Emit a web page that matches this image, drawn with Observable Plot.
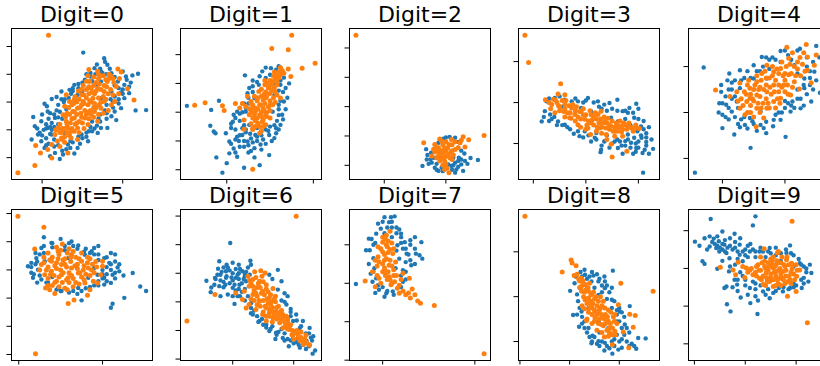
<!DOCTYPE html>
<html><head><meta charset="utf-8">
<script src="https://cdn.jsdelivr.net/npm/d3@7"></script>
<script src="https://cdn.jsdelivr.net/npm/@observablehq/plot@0.6"></script>
<style>
body{margin:0;background:#fff}
#chart{position:relative;width:820px;height:366px;overflow:hidden;background:#fff}
#chart svg{position:absolute}
</style>
</head><body><div id="chart"></div>
<script>
const digits = [0,1,2,3,4,5,6,7,8,9];

const blue0 = [[0.51,1.78],[0.77,1.58],[1.29,-0.29],[1.16,-0.30],[1.19,1.02],[1.12,0.96],[0.03,-0.06],[-0.11,-0.54],[-0.09,-0.87],[-0.13,-1.35],[0.12,0.11],[0.24,0.38],[0.34,0.44],[0.53,0.80],[0.65,1.22],[0.81,1.34],[0.86,1.04],[1.00,1.10],[1.04,0.92],[0.94,0.74],[1.02,0.62],[1.08,0.32],[1.02,0.14],[0.98,-0.22],[0.86,-0.51],[0.73,-0.93],[0.69,-1.11],[0.57,-1.41],[0.44,-1.65],[0.26,-1.89],[0.16,-1.83],[0.03,-1.65],[-0.05,-1.17],[-0.01,-0.69],[0.07,-0.34],[0.16,-0.57],[0.20,-0.10],[0.32,-0.22],[0.44,0.26],[0.57,0.50],[0.73,0.74],[0.73,0.14],[0.86,0.38],[0.62,-1.05],[0.49,-1.17],[0.32,-1.53],[0.12,-1.17],[0.07,-0.93],[0.81,-0.93],[0.90,-0.34],[0.28,-1.11],[-0.01,-1.41],[0.38,0.50],[0.73,1.11],[0.10,-0.40],[0.18,0.18],[0.28,0.10],[0.40,0.62],[0.47,0.40],[0.60,0.92],[0.68,0.62],[0.90,0.90],[0.95,0.50],[0.80,-0.60],[0.92,-0.65],[0.72,-0.45],[0.62,-0.70],[0.55,-1.25],[0.38,-1.45],[0.20,-1.55],[0.05,-1.30],[0.02,-1.00],[-0.06,-0.95],[0.12,-0.75],[0.10,-1.95],[0.40,-1.85],[1.10,0.70],[0.85,0.10],[0.95,-0.05],
[0.10,-0.90],[0.08,-0.60],[0.20,-0.55],[0.18,-0.30],[0.30,-0.25],[0.27,0.00],[0.40,0.05],[0.36,0.30],[0.50,0.40],[0.45,0.65],[0.62,0.75],[0.55,1.00],[0.72,1.20],[0.68,1.35],[0.84,1.20],[0.78,1.45],[0.25,-1.75],[0.22,-2.05],[0.35,-1.65],[0.47,-1.50],[0.50,-1.30],[0.58,-1.05],[0.60,-0.90],[0.68,-0.85],[0.70,-0.60],[0.78,-0.30],[0.80,-0.10],[0.88,0.00],[0.90,0.20],[0.98,0.35],[1.00,0.45],[1.05,0.80],[1.08,0.55],[0.00,-1.20],[0.05,-0.80],[0.00,-0.45],[0.08,-1.50],[0.15,-1.35],[0.12,-1.00],[0.20,-0.80],[0.06,-0.15],[-0.03,-1.10],
[0.05,-0.95],[0.10,-1.15],[0.15,-0.90],[0.15,-0.45],[0.22,-0.35],[0.25,-0.60],[0.24,0.10],[0.33,0.15],[0.38,0.40],[0.45,0.50],[0.50,0.70],[0.60,1.05],[0.66,1.00],[0.75,1.05],[0.80,1.00],[0.90,0.60],[0.95,0.10],[0.88,-0.20],[0.80,-0.40],[0.72,-0.70],[0.65,-0.95],[0.55,-1.10],[0.45,-1.25],[0.35,-1.40],[0.30,-1.70],[0.15,-1.60],[0.05,-1.55],[1.00,0.30]];
const orange0 = [[0.08,2.40],[-0.30,-2.54],[-0.09,-2.28],[-0.02,-1.83],[-0.08,-1.56],[0.12,-2.01],[0.07,-1.71],[0.12,-1.53],[0.24,-1.29],[0.36,-1.29],[0.32,-1.83],[0.44,-1.35],[0.20,-0.93],[0.32,-0.93],[0.44,-0.93],[0.57,-0.81],[0.69,-0.69],[0.26,-0.46],[0.40,-0.57],[0.53,-0.57],[0.34,0.02],[0.44,-0.22],[0.57,-0.10],[0.65,-0.34],[0.73,-0.22],[0.86,-0.10],[0.90,0.02],[0.30,0.26],[0.49,0.26],[0.69,0.50],[0.77,0.38],[0.59,0.74],[0.81,0.74],[0.58,1.17],[0.69,1.11],[0.94,1.19],[0.98,1.08],[0.92,0.56],[1.06,0.48],[1.14,0.07],[0.38,-0.34],[0.51,0.02],[0.63,0.14],[0.16,-1.17],[0.77,0.02],[0.30,-0.70],[0.48,-0.40],[0.60,-0.30],[0.36,-1.05],[0.25,-1.10],[0.55,0.45],[0.40,0.10],[0.62,0.35],[0.70,0.85],[0.80,0.55],[0.65,-0.05],[0.50,-0.75],[0.28,-0.15],
[0.22,-1.60],[0.22,-1.10],[0.22,-0.80],[0.28,-1.45],[0.28,-1.25],[0.28,-0.95],[0.29,-0.55],[0.34,-1.20],[0.35,-0.75],[0.34,-0.45],[0.33,-0.20],[0.40,-1.05],[0.41,-0.80],[0.40,-0.35],[0.39,-0.05],[0.41,0.20],[0.46,-1.10],[0.46,-0.70],[0.47,-0.20],[0.46,0.10],[0.45,0.40],[0.52,-0.95],[0.53,-0.30],[0.52,-0.05],[0.52,0.25],[0.51,0.60],[0.58,-0.60],[0.58,-0.35],[0.59,0.05],[0.58,0.30],[0.58,0.55],[0.57,0.95],[0.64,-0.55],[0.64,-0.20],[0.65,0.30],[0.64,0.60],[0.64,0.90],[0.70,-0.45],[0.71,-0.10],[0.70,0.15],[0.71,0.65],[0.70,1.00],[0.76,-0.40],[0.76,0.20],[0.77,0.60],[0.76,0.95],[0.82,0.30],[0.83,0.85],[0.82,-0.30],[0.83,1.00],[0.88,0.25],[0.88,0.85],[0.89,0.70],[0.95,0.30],[0.96,0.85],
[0.25,-1.35],[0.25,-0.95],[0.31,-1.10],[0.31,-0.80],[0.31,-0.40],[0.37,-0.95],[0.37,-0.60],[0.37,-0.10],[0.43,-0.75],[0.43,-0.45],[0.43,0.00],[0.49,-0.55],[0.49,-0.10],[0.49,0.45],[0.55,-0.45],[0.55,0.15],[0.55,0.75],[0.61,-0.45],[0.61,0.00],[0.61,0.50],[0.67,-0.20],[0.67,0.40],[0.67,0.70],[0.73,0.00],[0.73,0.45],[0.73,0.95],[0.79,0.10],[0.79,0.80],[0.85,0.45],[0.85,0.95],[0.19,-1.40],[0.17,-1.00]];

const blue1 = [[-0.46,0.22],[-0.09,0.40],[-0.18,0.08],[-0.19,-0.47],[-0.15,-0.67],[-0.13,-0.73],[-0.01,-0.73],[0.03,-1.02],[0.08,-1.26],[0.14,-1.00],[-0.12,-1.57],[0.00,-1.77],[-0.05,-2.10],[0.03,-1.43],[0.12,-1.55],[0.20,-1.93],[0.32,-1.57],[0.38,-1.84],[0.49,-1.49],[0.39,-1.12],[0.21,1.28],[0.24,0.66],[0.41,1.42],[0.51,1.53],[0.57,1.48],[0.68,0.84],[0.66,0.37],[0.64,-0.09],[0.62,-0.44],[0.57,-0.56],[0.57,-0.73],[0.49,-0.79],[0.28,-0.91],[0.24,-1.02],[0.18,-0.79],[0.07,-0.33],[0.08,-0.09],[0.12,0.02],[0.22,0.02],[0.26,-0.44],[0.33,-0.79],[0.18,-0.56],[0.53,0.02],[0.60,0.26],[0.45,1.19],[0.37,0.95],[0.32,0.49],[0.26,0.84],[0.10,-0.60],[0.20,-1.20],[0.30,-1.05],[0.42,-0.95],[0.15,-0.30],[0.05,-0.55],[0.45,-0.60],[0.35,-0.55],[0.55,0.60],[0.62,0.95],[0.50,1.30],[0.30,1.10],[0.20,0.30],
[0.15,-0.80],[0.22,-0.70],[0.25,-1.15],[0.32,-1.25],[0.40,-1.30],[0.45,-1.10],[0.52,-1.00],[0.55,-0.90],[0.60,-0.60],[0.65,-0.25],[0.68,0.10],[0.70,0.50],[0.65,0.70],[0.72,1.00],[0.66,1.20],[0.60,1.60],[0.45,1.55],[0.38,1.25],[0.30,0.90],[0.25,0.50],[0.22,0.15],[0.15,-0.05],[0.10,-0.20],[0.20,-0.45],[0.12,-0.85],[0.05,-1.10],[0.28,-1.35],[0.35,-1.00],[0.50,-0.50],[0.58,-0.30],
[0.05,-0.40],[0.10,-0.95],[0.15,-1.20],[0.20,-1.00],[0.22,-0.60],[0.27,-0.75],[0.35,-0.85],[0.40,-0.80],[0.48,-0.65],[0.55,-0.45],[0.60,-0.10],[0.60,0.10],[0.62,0.40],[0.60,0.75],[0.55,1.00],[0.62,1.10],[0.35,1.05],[0.30,0.70],[0.25,0.30],[0.18,0.00],[0.10,-1.40],[0.25,-1.40]];
const orange1 = [[0.75,2.67],[0.52,2.21],[0.71,2.17],[1.02,1.70],[0.87,1.53],[0.71,1.50],[0.74,1.24],[0.64,1.45],[-0.37,0.24],[-0.25,0.33],[-0.05,0.22],[-0.03,0.06],[0.10,0.30],[0.20,-0.27],[0.20,-0.59],[0.30,-1.98],[0.38,-0.73],[0.30,-0.56],[0.24,0.55],[0.28,0.37],[0.33,0.02],[0.39,0.26],[0.45,0.49],[0.49,0.84],[0.53,1.07],[0.57,1.30],[0.45,-0.09],[0.41,-0.33],[0.35,-0.21],[0.53,0.26],[0.60,1.19],[0.62,0.49],[0.30,0.14],[0.37,0.72],[0.45,-0.44],[0.26,-0.09],[0.40,0.55],[0.50,0.65],[0.55,0.85],[0.35,0.40],[0.43,0.05],[0.50,-0.20],[0.38,-0.50],[0.47,1.00],
[0.30,-0.60],[0.40,-0.65],[0.28,-0.40],[0.36,-0.38],[0.42,-0.25],[0.30,-0.20],[0.38,-0.10],[0.46,-0.15],[0.28,0.00],[0.36,0.10],[0.42,0.15],[0.50,0.05],[0.30,0.25],[0.44,0.30],[0.48,0.18],[0.56,0.35],[0.32,0.55],[0.42,0.42],[0.50,0.40],[0.58,0.60],[0.40,0.80],[0.45,0.70],[0.52,0.75],[0.58,0.95],[0.44,0.95],[0.50,1.10],[0.56,1.15],[0.62,1.30],[0.55,1.40],[0.62,1.55],[0.66,1.35],[0.15,0.15],[0.18,0.30],[0.22,0.20],
[0.33,-0.50],[0.42,-0.50],[0.33,-0.30],[0.40,-0.15],[0.32,-0.10],[0.40,0.00],[0.46,0.00],[0.33,0.15],[0.38,0.25],[0.50,0.25],[0.36,0.50],[0.46,0.55],[0.54,0.50],[0.43,0.62],[0.48,0.85],[0.56,0.70],[0.52,0.95],[0.58,1.05],[0.54,1.25],[0.60,1.40],[0.44,1.10],[0.28,0.30],[0.26,0.12]];

const blue2 = [[0.62,-0.02],[0.69,0.20],[0.77,0.09],[0.82,-0.08],[0.93,-0.08],[0.96,0.91],[1.06,0.97],[1.15,0.94],[1.20,0.60],[1.21,0.26],[1.25,0.03],[1.28,-0.19],[1.17,-0.14],[1.09,-0.02],[1.52,0.18],[1.31,0.15],[0.76,0.43],[0.88,0.77],[1.12,0.26],[1.04,0.03],[1.15,0.09],[0.88,-0.19],[0.80,0.26],
[0.70,0.35],[0.72,0.05],[0.85,-0.15],[0.95,-0.20],[1.10,-0.15],[1.20,-0.05],[1.25,0.20],[1.30,0.40],[1.20,0.80],[1.00,0.95],[1.35,0.05],[1.40,0.25],[1.15,-0.25],[0.68,0.55],
[0.75,0.20],[0.85,0.05],[1.00,-0.10],[1.12,0.00],[1.20,0.15],[1.25,0.50]];
const orange2 = [[-0.46,4.43],[0.64,0.77],[1.28,0.97],[1.37,0.87],[1.62,1.02],[1.31,0.62],[0.82,0.71],[0.93,0.83],[1.09,0.88],[1.23,0.77],[0.98,0.60],[0.88,0.49],[0.77,0.32],[0.85,0.26],[0.98,0.15],[1.05,-0.25],[0.98,-0.14],[1.04,0.37],[1.15,0.54],[0.96,0.43],[1.05,0.71],[0.92,0.30],[1.10,0.70],[1.00,0.05],
[0.85,0.60],[0.90,0.40],[0.95,0.70],[1.00,0.50],[1.00,0.30],[1.08,0.45],[1.12,0.35],[1.20,0.60],[0.82,0.45],[0.90,0.15],[0.95,0.00],[1.02,-0.10],[0.90,0.90],[1.15,0.80],[1.25,0.85],[1.10,0.20],[0.80,0.55],
[0.88,0.60],[0.93,0.50],[1.03,0.60],[1.07,0.25],[0.87,0.30],[0.95,0.25],[1.10,0.50],[1.00,0.80]];

const blue3 = [[0.16,-0.46],[0.22,-0.21],[0.25,0.03],[0.32,-0.29],[0.47,-0.46],[0.60,-0.54],[0.77,-0.76],[0.88,-0.82],[1.04,0.11],[1.23,0.03],[1.45,-0.01],[1.60,0.07],[1.83,-0.13],[1.96,-0.03],[1.70,-0.21],[1.92,-0.37],[2.05,-0.58],[2.06,-0.86],[2.15,-0.96],[2.28,-1.13],[2.08,-1.23],[1.96,-1.11],[1.86,-0.98],[2.09,-1.71],[1.75,-0.94],[1.29,-1.15],[1.28,-1.21],[1.61,-1.11],[1.36,-0.94],[1.17,-0.86],[0.73,0.03],[0.85,0.03],[0.91,-0.13],[1.10,-0.21],[1.48,-0.37],[1.61,-0.46],[1.80,-0.78],[1.92,-0.86],[0.41,0.11],[0.60,0.07],[0.98,-0.70],[1.20,-0.74],[1.30,-0.15],[1.40,-0.20],[1.75,-0.40],[1.85,-0.55],[1.98,-0.70],[2.15,-0.75],[2.00,-0.95],[1.55,-0.95],[1.68,-1.05],[0.95,0.00],[0.40,-0.35],[0.55,-0.10],
[0.30,-0.45],[0.45,-0.55],[0.70,-0.65],[0.95,-0.85],[1.10,-0.95],[1.30,-1.05],[1.45,-1.10],[1.70,-1.25],[1.90,-1.25],[2.00,-1.10],[2.15,-1.05],[2.20,-1.25],[2.10,-0.45],[2.20,-0.60],[2.00,-0.15],[1.80,-0.25],[1.60,-0.20],[1.35,-0.05],[1.15,0.00],[1.00,0.05],[0.80,0.10],[0.50,0.15],[0.30,0.10],[1.85,-1.10],[2.25,-0.90],[1.40,-0.80],[1.60,-0.90],[1.80,-0.90],
[0.20,-0.35],[0.35,-0.40],[0.55,-0.55],[0.65,-0.60],[0.85,-0.70],[1.05,-0.80],[1.20,-0.90],[1.35,-0.95],[1.50,-1.00],[1.65,-0.95],[1.75,-1.05],[1.95,-1.00],[2.05,-0.80],[2.10,-0.65],[2.00,-0.40],[1.90,-0.25],[1.75,-0.20],[1.50,-0.15],[1.25,-0.10],[2.15,-0.85],[1.95,-1.20],[2.12,-1.15]];
const orange3 = [[-0.16,1.64],[-0.09,0.98],[0.52,0.46],[0.47,0.21],[0.60,0.19],[0.23,0.07],[0.42,0.06],[0.33,-0.15],[0.41,-0.25],[0.60,-0.05],[0.73,-0.13],[0.79,-0.29],[0.91,-0.21],[0.98,-0.41],[1.10,-0.50],[1.23,-0.29],[1.36,-0.46],[1.26,-0.62],[1.39,-0.78],[1.55,-0.70],[1.67,-0.58],[1.80,-0.54],[1.96,-0.62],[2.02,-0.63],[1.70,-0.82],[1.55,-0.82],[1.09,-0.78],[1.48,-1.02],[1.50,-1.33],[1.78,-1.19],[0.85,-0.54],[0.69,-0.37],[1.04,-0.62],[1.29,-0.21],[0.50,-0.10],[0.65,-0.25],[0.80,-0.45],[1.15,-0.35],[1.45,-0.55],[1.60,-0.55],[0.30,0.00],
[0.35,-0.05],[0.45,0.00],[0.50,-0.20],[0.55,0.05],[0.60,-0.15],[0.70,-0.25],[0.75,-0.05],[0.80,-0.20],[0.85,-0.35],[0.90,-0.40],[0.95,-0.15],[1.00,-0.30],[1.05,-0.45],[1.10,-0.30],[1.15,-0.55],[1.20,-0.40],[1.25,-0.50],[1.30,-0.60],[1.35,-0.35],[1.40,-0.50],[1.45,-0.65],[1.50,-0.45],[1.55,-0.60],[1.60,-0.70],[1.65,-0.45],[1.70,-0.65],[1.75,-0.55],[1.85,-0.60],[1.90,-0.70],[1.20,-0.70],[0.60,-0.35],[0.90,-0.60],
[0.38,0.08],[0.48,-0.08],[0.58,-0.22],[0.62,0.05],[0.68,-0.08],[0.72,-0.38],[0.82,-0.10],[0.88,-0.22],[0.95,-0.30],[1.02,-0.55],[1.08,-0.20],[1.12,-0.42],[1.18,-0.25],[1.22,-0.60],[1.28,-0.40],[1.33,-0.50],[1.38,-0.62],[1.42,-0.38],[1.48,-0.58],[1.52,-0.70],[1.58,-0.50],[1.62,-0.62],[1.68,-0.72],[1.72,-0.50],[1.78,-0.65],[1.82,-0.50],[1.88,-0.62],[1.95,-0.55],[1.30,-0.75],[1.40,-0.90],[1.00,-0.65]];

const blue4 = [[-0.30,0.98],[-0.44,-1.31],[0.45,-0.77],[1.01,-0.53],[0.19,-0.48],[0.00,-0.34],[-0.06,0.00],[-0.02,0.45],[-0.02,0.60],[0.11,0.85],[0.28,0.92],[0.50,1.03],[0.63,1.21],[0.93,1.34],[1.24,1.39],[1.50,1.45],[1.56,0.43],[1.42,0.24],[1.25,0.09],[1.09,0.02],[0.93,-0.16],[0.81,-0.30],[0.66,-0.34],[0.48,-0.19],[0.28,-0.32],[0.36,-0.27],[0.06,0.17],[0.15,0.02],[0.82,-0.16],[0.61,0.02],[0.93,1.10],[1.15,1.03],[1.31,0.74],[1.31,0.53],[1.12,0.24],[0.50,0.74],[0.28,0.53],[0.23,0.24],[0.71,0.74],[1.47,0.89],[0.44,-0.12],[0.61,-0.27],[0.05,0.35],[0.10,-0.15],[0.40,0.90],[0.75,1.15],[1.05,1.25],[1.20,0.85],[1.40,0.60],[1.00,0.10],[0.70,-0.20],[0.20,0.70],[1.35,1.20],
[0.00,0.20],[0.05,-0.10],[0.10,0.50],[0.15,0.30],[0.20,-0.10],[0.30,-0.15],[0.35,0.75],[0.40,-0.35],[0.55,-0.40],[0.60,0.90],[0.70,1.20],[0.80,1.20],[0.85,-0.05],[0.95,0.00],[1.05,0.20],[1.15,0.10],[1.20,0.50],[1.25,0.30],[1.35,0.40],[1.40,0.90],[1.45,1.10],[1.55,1.20],[1.50,0.70],[1.20,1.35],[1.00,1.35],[0.15,0.65],[-0.05,0.20],[0.25,-0.25],[0.70,-0.45],[1.30,0.15],
[0.10,0.10],[0.15,0.50],[0.20,0.35],[0.25,0.10],[0.30,0.70],[0.35,-0.10],[0.45,0.75],[0.50,-0.25],[0.55,0.90],[0.65,1.00],[0.75,0.95],[0.85,1.15],[0.90,0.00],[1.00,0.25],[1.10,0.15],[1.20,0.30],[1.30,0.60],[1.40,0.75],[1.35,1.00],[1.45,0.50],[0.00,-0.05],[0.08,0.70],[1.10,1.15]];
const orange4 = [[1.61,1.68],[1.34,1.48],[1.03,1.42],[1.50,1.25],[1.36,1.21],[1.47,1.03],[1.36,0.92],[1.42,0.65],[1.23,0.51],[-0.11,0.49],[0.12,0.35],[0.28,0.64],[0.44,0.53],[0.55,0.67],[0.71,1.03],[0.82,0.89],[0.93,0.96],[1.06,1.18],[1.06,0.82],[0.98,0.60],[0.82,0.60],[0.71,0.45],[0.55,0.38],[0.39,0.24],[0.28,0.09],[0.36,-0.05],[0.55,0.09],[0.66,-0.12],[0.82,0.24],[0.93,0.31],[1.09,0.38],[1.15,0.67],[0.54,-0.31],[0.44,0.31],[0.23,0.45],[0.71,0.09],[0.60,0.55],[0.70,0.30],[0.90,0.45],[1.00,0.85],[1.15,1.00],[0.45,0.15],
[0.30,0.30],[0.35,0.45],[0.40,0.60],[0.45,0.40],[0.50,0.50],[0.50,0.25],[0.55,0.80],[0.60,0.35],[0.62,0.70],[0.65,0.20],[0.68,0.90],[0.70,0.60],[0.75,0.75],[0.78,0.40],[0.80,1.00],[0.85,0.70],[0.88,0.30],[0.90,0.85],[0.95,1.10],[0.95,0.55],[1.00,0.70],[1.02,1.00],[1.05,0.40],[1.10,0.85],[1.12,1.30],[1.20,1.10],[1.25,0.80],[1.30,1.30],[0.60,0.00],[0.50,-0.10],[0.40,0.00],[0.75,0.10],[0.85,0.10],[0.25,0.25],
[0.33,0.15],[0.38,0.40],[0.42,0.70],[0.48,0.30],[0.52,0.60],[0.57,0.20],[0.58,0.50],[0.63,0.85],[0.66,0.50],[0.70,0.75],[0.73,0.20],[0.76,0.55],[0.80,0.80],[0.83,0.45],[0.87,0.95],[0.90,0.60],[0.92,0.20],[0.97,0.80],[1.00,0.45],[1.04,0.60],[1.08,1.05],[1.12,0.55],[1.17,0.80],[1.20,0.95],[1.24,1.20],[1.28,1.05],[1.32,0.90],[0.62,0.10],[0.45,0.00]];

const blue5 = [[0.11,0.13],[0.17,-0.28],[0.21,0.42],[0.23,0.01],[0.30,1.16],[0.39,0.96],[0.63,1.01],[0.71,0.87],[0.87,0.66],[0.90,0.78],[1.02,0.42],[1.08,0.25],[1.18,0.09],[1.12,-0.17],[1.10,-0.46],[1.02,-0.52],[1.36,-0.11],[1.45,-0.59],[1.52,-0.75],[1.26,-0.99],[1.12,-1.20],[1.10,-1.34],[0.75,-1.08],[0.51,-0.75],[0.47,-0.64],[0.71,-0.64],[0.83,-0.28],[0.90,0.07],[0.79,0.54],[0.27,0.78],[0.31,0.31],[0.59,0.42],[0.94,-0.17],[1.02,-0.28],[0.27,-0.34],[0.20,0.60],[0.45,0.80],[0.55,0.70],[0.80,0.75],[0.95,0.55],[1.05,0.10],[0.95,-0.40],[0.85,-0.60],[0.60,-0.80],[0.35,-0.55],[0.15,0.25],[1.15,0.30],[0.40,-0.25],
[0.15,-0.10],[0.20,0.20],[0.22,-0.45],[0.25,0.55],[0.30,0.85],[0.35,-0.45],[0.50,-0.75],[0.60,0.95],[0.70,0.75],[0.75,-0.75],[0.85,0.60],[0.90,-0.55],[1.00,0.00],[1.05,-0.15],[1.10,0.20],[1.15,-0.30],[1.00,-0.30],[1.05,0.45],[1.10,0.60],[0.95,0.85],[1.20,-0.05],[0.70,-0.85],[0.40,0.95],[0.50,1.10],[1.15,0.55],
[0.15,0.10],[0.18,-0.15],[0.22,0.30],[0.25,-0.20],[0.30,0.60],[0.33,-0.45],[0.40,0.80],[0.55,0.85],[0.65,0.85],[0.78,0.65],[0.90,0.55],[0.95,0.35],[1.00,-0.15],[1.05,-0.40],[0.95,-0.55],[0.80,-0.65],[0.65,-0.75],[0.45,-0.70],[1.10,0.00],[1.15,-0.10],[1.20,0.20],[1.25,-0.20]];
const orange5 = [[-0.01,1.90],[0.20,-2.97],[0.30,1.51],[0.19,0.74],[0.52,0.92],[0.35,0.60],[0.47,0.66],[0.63,0.54],[0.75,0.31],[0.83,0.07],[0.39,0.31],[0.51,0.19],[0.63,0.07],[0.39,-0.05],[0.51,-0.17],[0.59,-0.28],[0.71,-0.11],[0.79,-0.46],[0.89,-0.40],[0.94,-0.46],[1.00,0.31],[1.00,0.13],[0.98,-0.17],[0.85,-0.70],[0.82,-0.90],[0.66,-1.07],[0.59,-1.19],[0.58,-0.70],[0.43,-0.84],[0.37,-0.70],[0.32,-0.64],[0.27,0.19],[0.31,-0.17],[0.45,-0.40],[0.55,0.40],[0.70,0.20],[0.45,0.05],[0.60,-0.45],[0.75,-0.25],[0.30,0.45],[0.85,0.40],
[0.35,0.10],[0.40,0.45],[0.42,-0.20],[0.45,0.25],[0.48,0.55],[0.50,0.00],[0.52,-0.45],[0.55,0.20],[0.58,0.60],[0.60,-0.10],[0.62,0.30],[0.65,-0.30],[0.68,0.45],[0.70,0.05],[0.72,-0.50],[0.75,0.60],[0.78,0.15],[0.80,-0.15],[0.82,0.45],[0.88,0.20],[0.90,-0.10],[0.92,0.30],[0.35,-0.30],[0.40,-0.55],[0.55,-0.65],[0.65,-0.60],[0.30,0.25],[0.25,0.00],[0.45,0.80],[0.60,0.75],
[0.33,0.00],[0.37,0.35],[0.38,-0.15],[0.43,0.15],[0.43,-0.45],[0.47,0.40],[0.48,-0.25],[0.53,0.35],[0.53,-0.10],[0.57,0.10],[0.57,-0.35],[0.62,0.45],[0.63,-0.20],[0.67,0.15],[0.68,-0.45],[0.72,0.40],[0.73,-0.10],[0.77,0.00],[0.78,-0.35],[0.82,0.25],[0.85,-0.20],[0.87,0.00],[0.93,0.10],[0.50,0.70],[0.65,0.65],[0.35,-0.55],[0.48,-0.60]];

const blue6 = [[-0.04,2.06],[-0.22,1.42],[-0.24,1.16],[0.00,1.37],[0.29,1.44],[-0.43,0.74],[-0.29,0.84],[-0.36,0.34],[-0.08,0.26],[-0.15,0.51],[0.03,-0.07],[-0.11,0.84],[0.05,0.84],[0.16,1.07],[0.74,1.12],[0.80,0.72],[0.74,0.43],[0.88,-0.09],[1.04,-0.44],[1.15,-0.67],[1.26,-0.91],[1.32,-1.20],[1.35,-1.70],[1.31,-1.81],[0.92,-1.55],[0.71,-1.08],[0.60,-1.02],[0.44,-0.67],[0.33,-0.44],[0.30,-0.21],[0.11,0.60],[0.22,0.72],[0.00,0.49],[0.99,-0.67],[1.10,-0.91],[0.99,-1.26],[1.21,-1.37],[0.82,-1.26],[0.55,-0.79],[-0.11,1.07],[-0.20,0.95],[-0.05,1.10],[0.10,1.00],[0.20,0.90],[-0.15,0.70],[0.08,0.20],[0.15,0.35],[0.90,0.20],[0.95,-0.25],[1.20,-1.10],[1.15,-1.50],[1.05,-1.40],[0.70,-1.30],
[-0.30,0.60],[-0.25,0.95],[-0.20,0.75],[-0.15,1.20],[-0.10,0.90],[-0.05,0.65],[0.00,1.00],[0.00,0.75],[0.05,1.15],[0.10,0.80],[0.15,0.65],[0.20,0.95],[0.25,1.20],[0.10,1.30],[-0.10,1.30],[0.05,0.40],[0.12,0.20],[0.20,0.45],[0.25,0.20],[0.30,-0.05],[0.35,-0.30],[0.40,-0.50],[0.48,-0.60],[0.55,-0.90],[0.65,-0.85],[0.75,-1.05],[0.80,-0.95],[0.85,-1.10],[0.90,-1.30],[1.00,-1.45],[1.10,-1.60],[1.20,-1.65],[1.25,-1.10],[1.30,-1.35],[1.05,-0.65],[0.95,-0.50],[0.85,0.30],[0.80,0.05],[0.65,0.80],[0.60,0.95],[-0.35,0.50],[-0.20,0.20],
[-0.28,0.80],[-0.22,0.55],[-0.18,1.05],[-0.12,0.60],[-0.08,1.20],[-0.02,0.85],[0.03,0.60],[0.08,0.95],[0.12,1.15],[0.18,0.80],[0.22,1.05],[0.28,0.95],[0.30,1.30],[0.00,0.20],[0.10,0.45],[0.20,0.05],[0.30,-0.40],[0.42,-0.70],[0.50,-0.80],[0.62,-0.95],[0.72,-1.15],[0.85,-1.35],[0.95,-1.35],[1.08,-1.50],[1.18,-1.30],[1.25,-1.55],[1.28,-1.25],[1.12,-0.85],[0.95,-0.35],[0.85,0.00]];
const orange6 = [[1.04,2.99],[-0.75,-0.67],[-0.29,0.26],[0.05,0.31],[0.36,1.05],[0.46,1.09],[0.53,1.01],[0.33,0.78],[0.44,0.72],[0.27,0.55],[0.66,0.47],[0.19,0.37],[0.33,0.26],[0.49,0.37],[0.16,0.08],[0.27,-0.09],[0.44,0.02],[0.60,0.14],[0.22,-0.21],[0.38,-0.27],[0.55,-0.21],[0.71,-0.33],[0.49,-0.44],[0.66,-0.56],[0.82,-0.44],[0.77,-0.73],[0.88,-0.79],[0.93,-0.97],[0.99,-1.14],[1.07,-1.26],[1.20,-1.16],[1.16,-1.49],[1.26,-1.51],[0.60,-0.38],[0.82,-0.91],[0.55,-0.67],[0.40,0.50],[0.55,0.60],[0.35,0.05],[0.70,0.00],[0.62,-0.10],[0.90,-0.60],[1.05,-1.00],
[0.25,0.90],[0.30,0.65],[0.35,0.40],[0.38,0.85],[0.40,0.20],[0.45,0.50],[0.48,0.90],[0.50,0.05],[0.52,0.25],[0.55,0.45],[0.58,-0.05],[0.60,-0.50],[0.62,0.25],[0.65,-0.20],[0.68,-0.45],[0.70,0.20],[0.72,-0.60],[0.75,-0.15],[0.78,-0.35],[0.80,-0.60],[0.85,-0.70],[0.88,-0.50],[0.90,-0.95],[0.95,-0.80],[0.98,-1.00],[1.00,-1.30],[1.05,-1.10],[1.10,-1.35],[1.12,-1.05],[1.18,-1.30],[1.22,-1.45],[0.45,-0.15],[0.50,-0.35],[0.40,-0.10],[0.30,0.10],
[0.28,0.75],[0.33,0.55],[0.38,0.30],[0.42,0.65],[0.43,0.05],[0.47,0.30],[0.50,0.70],[0.53,-0.15],[0.56,0.10],[0.58,0.35],[0.60,-0.25],[0.63,0.00],[0.66,-0.35],[0.68,0.10],[0.72,-0.20],[0.74,-0.45],[0.77,-0.55],[0.80,-0.30],[0.83,-0.55],[0.86,-0.85],[0.90,-0.70],[0.93,-0.85],[0.97,-1.15],[1.02,-1.05],[1.08,-1.20],[1.12,-1.25],[1.15,-1.40],[1.20,-1.40],[0.55,-0.50],[0.65,-0.70]];

const blue7 = [[0.02,1.72],[0.09,1.72],[0.13,1.74],[0.07,1.59],[-0.02,1.42],[-0.07,1.29],[-0.15,1.16],[-0.18,0.86],[-0.14,0.86],[-0.29,-0.02],[0.24,1.07],[0.30,1.12],[0.35,1.20],[0.42,1.07],[0.26,0.77],[0.36,0.77],[0.40,0.73],[0.43,0.64],[0.31,0.47],[0.22,0.34],[0.20,1.29],[0.16,0.99],[-0.09,0.39],[-0.11,0.04],[0.04,-0.26],[0.11,-0.21],[-0.04,-0.17],[-0.07,0.13],[0.18,0.64],[0.14,0.39],[0.22,0.04],[0.05,1.45],[0.15,1.45],[-0.10,1.00],[0.10,1.20],[0.20,1.05],[0.25,0.55],[-0.10,0.65],[0.00,-0.10],
[-0.05,1.55],[0.00,1.60],[0.10,1.60],[0.15,1.30],[0.20,1.20],[0.25,0.90],[0.30,1.00],[0.30,0.60],[0.15,0.85],[-0.12,1.15],[-0.08,1.05],[-0.15,0.50],[-0.13,0.25],[-0.05,-0.05],[0.05,-0.20],[0.12,-0.30],[0.02,-0.35],[-0.08,-0.25],[0.20,0.20],[0.25,0.30],[0.35,0.50],[0.35,0.90],
[0.10,1.45],[0.02,1.30],[0.22,0.90],[0.28,0.75],[-0.10,0.30],[0.20,-0.10],[0.25,0.10],[0.18,1.40]];
const orange7 = [[1.10,-1.83],[0.56,-0.58],[0.41,-0.52],[0.38,-0.46],[-0.19,0.06],[-0.08,-0.09],[0.32,-0.15],[0.25,-0.30],[0.18,-0.26],[0.29,0.13],[0.22,0.26],[-0.11,0.30],[-0.04,0.56],[0.04,1.25],[0.00,1.07],[-0.05,0.95],[0.00,0.82],[0.04,0.64],[0.07,0.47],[0.00,0.30],[0.07,0.17],[0.13,0.04],[0.09,-0.04],[0.16,-0.13],[-0.05,0.69],[0.11,0.77],[0.05,0.95],[-0.04,0.13],[0.02,0.40],[0.05,0.10],[-0.06,0.45],[0.08,0.88],[0.03,1.15],
[-0.06,0.20],[0.00,0.50],[0.02,0.75],[0.04,1.00],[0.06,0.30],[0.08,0.60],[0.10,0.00],[0.12,0.35],[0.14,0.55],[0.12,0.90],[0.10,1.05],[0.03,0.20],[-0.02,0.00],[0.15,0.20],[0.20,0.10],[0.18,-0.05],[0.22,-0.20],[0.28,-0.25],[0.35,-0.30],[0.30,-0.38],[-0.08,0.60],[0.00,1.20],[0.08,1.35],
[0.02,0.60],[0.06,0.80],[0.10,0.45],[0.04,0.30],[0.08,0.10],[-0.02,0.90],[0.12,0.20],[0.06,1.10]];

const blue8 = [[1.87,0.58],[1.01,0.13],[1.07,-0.41],[1.19,-0.67],[1.31,0.49],[1.48,0.47],[1.58,0.34],[1.71,0.19],[1.85,-0.07],[2.01,-0.33],[2.21,-0.21],[2.11,-0.62],[2.38,-0.92],[2.53,-0.93],[2.34,-1.16],[2.05,-1.14],[1.86,-1.27],[1.98,-1.18],[1.71,-1.03],[1.44,-1.04],[1.46,-0.87],[1.58,-0.99],[1.38,-0.70],[1.17,-0.10],[1.44,0.34],[1.71,0.34],[1.95,-0.55],[2.05,-0.70],[1.78,-0.70],[1.58,-0.55],[1.24,-0.33],[1.38,-0.25],[1.85,-0.25],[1.58,0.04],[1.35,0.40],[1.20,0.20],[1.65,0.10],[1.95,-0.40],[2.20,-0.80],[1.90,-0.95],[1.60,-0.80],[1.30,-0.55],[2.00,-1.00],
[1.10,0.30],[1.15,0.05],[1.20,-0.25],[1.25,-0.45],[1.30,-0.70],[1.40,-0.90],[1.50,-0.90],[1.60,-1.10],[1.70,-1.20],[1.80,-1.15],[1.95,-0.85],[2.10,-0.85],[2.15,-1.00],[2.25,-1.05],[2.10,-0.45],[2.00,-0.55],[1.90,-0.10],[1.80,0.10],[1.70,0.45],[1.55,0.50],[1.45,0.55],[1.30,0.60],[1.22,0.55],[1.65,0.25],[1.75,-0.05],[2.00,-0.25],[1.35,0.20],[1.50,0.20],
[1.15,-0.40],[1.25,-0.60],[1.35,-0.80],[1.45,-1.00],[1.55,-1.05],[1.65,-1.00],[1.75,-1.10],[1.85,-1.00],[2.05,-0.95],[2.15,-0.70],[2.05,-0.35],[1.95,-0.30],[1.85,0.20],[1.75,0.25],[1.60,0.40],[1.40,0.45],[1.25,0.45],[1.12,0.45],[2.30,-1.10],[2.20,-1.10],[1.90,-1.10]];
const orange8 = [[0.10,1.79],[1.03,0.82],[1.05,0.75],[1.13,0.69],[0.85,0.55],[1.09,0.47],[2.03,0.30],[2.68,0.12],[1.24,0.41],[1.31,0.27],[1.38,0.12],[1.24,0.12],[1.31,-0.07],[1.30,-0.27],[1.44,-0.18],[1.58,-0.10],[1.51,-0.33],[1.64,-0.40],[1.71,-0.25],[1.98,-0.18],[1.91,-0.40],[1.78,-0.55],[1.64,-0.62],[1.51,-0.47],[1.34,-0.53],[1.91,-0.77],[2.08,-0.79],[2.21,-0.39],[2.32,-0.42],[2.28,-0.68],[1.78,-0.88],[1.86,-1.07],[2.19,-1.14],[1.44,0.04],[1.38,-0.03],[1.21,0.21],[1.50,-0.05],[1.60,-0.30],[1.45,-0.40],[1.70,-0.50],[1.80,-0.70],
[1.15,0.50],[1.20,0.35],[1.25,0.25],[1.28,0.00],[1.32,0.15],[1.35,-0.15],[1.38,-0.35],[1.42,-0.10],[1.45,-0.25],[1.48,0.10],[1.50,-0.55],[1.55,-0.20],[1.55,-0.40],[1.60,-0.50],[1.62,0.00],[1.65,-0.20],[1.68,-0.65],[1.72,-0.40],[1.75,-0.75],[1.78,-0.30],[1.82,-0.60],[1.85,-0.85],[1.88,-0.45],[1.95,-0.60],[1.40,0.30],[1.35,-0.50],[1.25,-0.20],[1.55,-0.75],[1.70,-0.90],
[1.18,0.40],[1.22,0.20],[1.27,0.35],[1.30,0.10],[1.34,-0.05],[1.37,0.20],[1.40,-0.25],[1.43,0.05],[1.47,-0.15],[1.50,-0.30],[1.53,0.00],[1.57,-0.35],[1.58,-0.60],[1.62,-0.25],[1.66,-0.45],[1.68,-0.10],[1.72,-0.60],[1.76,-0.45],[1.80,-0.80],[1.83,-0.35],[1.86,-0.70],[1.90,-0.55],[1.92,-0.85],[1.45,-0.60],[1.65,-0.80]];

const blue9 = [[0.01,0.71],[0.32,1.31],[0.55,0.98],[0.79,0.92],[0.38,0.79],[0.30,0.58],[0.48,0.72],[0.59,0.63],[0.16,0.19],[0.20,0.12],[0.45,-0.01],[0.68,-0.08],[0.79,-0.30],[0.63,-0.48],[0.59,-0.52],[0.84,-0.43],[0.91,-0.77],[0.64,-0.95],[0.71,-1.14],[1.10,-0.92],[1.20,-0.74],[1.24,-1.21],[1.48,-0.79],[1.66,-0.52],[1.74,-0.61],[1.88,-0.52],[2.11,-0.52],[2.24,-0.35],[2.30,-0.12],[2.27,0.10],[2.07,0.14],[1.88,0.61],[1.81,0.41],[1.20,1.38],[1.15,1.14],[0.89,0.63],[1.09,0.45],[1.28,0.45],[1.48,0.54],[0.89,0.36],[0.69,0.27],[0.49,0.45],[0.43,0.54],[0.63,0.41],[0.95,0.19],[1.09,-0.52],[1.35,-0.61],[1.55,-0.65],[1.15,-0.35],[2.53,-2.26],[1.00,0.50],[1.40,0.30],[1.60,0.35],[1.95,0.05],[2.15,-0.25],[1.95,-0.40],[1.30,-0.45],[0.95,-0.20],[0.75,0.50],[0.60,0.75],[1.70,0.20],
[0.30,0.85],[0.40,0.65],[0.45,0.85],[0.50,0.55],[0.55,0.50],[0.65,0.55],[0.70,0.80],[0.80,0.55],[0.85,0.45],[0.90,0.80],[1.00,0.35],[1.05,0.60],[1.15,0.50],[1.20,0.30],[1.30,0.55],[1.45,0.45],[1.60,0.55],[1.80,0.50],[1.95,0.35],[2.05,0.25],[2.15,0.05],[2.20,-0.10],[2.10,-0.30],[2.00,-0.45],[1.85,-0.55],[1.60,-0.60],[1.40,-0.70],[1.20,-0.55],[1.00,-0.45],[0.90,-0.10],[0.80,0.10],[0.70,0.05],[0.55,0.20],[1.25,-0.85],[1.05,-0.70],[0.85,-0.60],
[0.10,0.60],[0.20,0.80],[0.25,0.50],[0.35,0.70],[0.45,0.60],[0.55,0.65],[0.60,0.45],[0.70,0.60],[0.80,0.70],[0.85,0.25],[0.95,0.45],[1.05,0.30],[1.10,0.65],[1.20,0.45],[1.35,0.45],[1.50,0.40],[1.70,0.40],[1.90,0.40],[2.10,0.10],[2.20,0.00],[2.15,-0.40],[1.95,-0.50],[1.75,-0.50],[1.45,-0.55],[1.20,-0.40],[1.00,-0.30],[0.85,-0.30],[0.75,-0.50]];
const orange9 = [[1.92,1.25],[2.22,-1.44],[1.37,0.52],[0.51,0.03],[0.86,0.16],[0.76,-0.04],[0.81,-0.17],[0.99,-0.24],[1.09,-0.04],[1.22,0.05],[1.38,0.19],[1.55,0.01],[1.63,0.41],[1.81,0.23],[1.91,0.14],[2.07,-0.04],[2.01,-0.21],[1.84,-0.35],[1.68,-0.26],[1.48,-0.35],[1.28,-0.26],[1.15,-0.17],[1.35,-0.43],[1.55,-0.48],[1.83,-0.74],[2.00,-0.61],[1.61,-0.08],[1.74,-0.08],[1.41,-0.12],[1.02,0.01],[1.65,0.15],[1.50,0.25],[1.75,-0.30],[1.90,-0.10],[1.45,-0.05],
[1.20,-0.10],[1.25,0.10],[1.30,-0.05],[1.32,-0.30],[1.38,0.05],[1.42,-0.25],[1.45,0.15],[1.50,-0.15],[1.52,0.10],[1.55,-0.30],[1.58,0.05],[1.60,-0.20],[1.62,0.20],[1.65,-0.40],[1.68,0.00],[1.70,-0.15],[1.72,0.30],[1.78,0.05],[1.80,-0.20],[1.85,0.10],[1.88,-0.30],[1.92,0.00],[1.95,-0.15],[2.00,0.10],[1.70,-0.45],[1.40,-0.45],[1.05,-0.10],[0.95,0.05],[1.30,0.30],[1.55,0.30],[1.65,0.45],
[1.22,-0.20],[1.27,-0.05],[1.33,0.15],[1.35,-0.20],[1.40,0.00],[1.43,-0.35],[1.47,0.05],[1.50,-0.25],[1.53,0.20],[1.57,-0.10],[1.60,0.10],[1.63,-0.30],[1.66,-0.05],[1.70,0.15],[1.73,-0.25],[1.76,0.10],[1.80,-0.05],[1.82,0.30],[1.86,-0.20],[1.90,-0.40],[1.93,0.10],[1.97,-0.30],[2.02,-0.05],[1.12,0.00],[1.60,-0.45],[1.78,-0.40]];

const xTicks = [[0,1],[0,1],[0,1],[0,1,2],[0,1],[0,1],[0,1],[0,1],[0,1,2],[0,1,2]];
const yTicks = [[-2,-1,0,1,2],[-2,-1,0,1,2],[0,1,2,3,4],[-1,0,1],[-1,0,1],[-3,-2,-1,0,1,2],[-2,-1,0,1,2,3],[-2,-1,0,1],[-1,0,1],[-2,-1,0,1]];

const blues = [blue0,blue1,blue2,blue3,blue4,blue5,blue6,blue7,blue8,blue9];
const oranges = [orange0,orange1,orange2,orange3,orange4,orange5,orange6,orange7,orange8,orange9];

const colLeft = [11, 180, 349, 518, 688];
const rowTop = [27.5, 208.5];
const W = 141, H = 151, ml = 8, mr = 2, mt = 32, mb = 7;

function padded(vals) {
  const [a, b] = d3.extent(vals);
  const p = (b - a) * 0.05;
  return [a - p, b + p];
}

const chart = document.getElementById("chart");
digits.forEach((dg, i) => {
  const all = blues[i].concat(oranges[i]);
  const svg = Plot.plot({
    width: W + ml + mr, height: H + mt + mb,
    marginLeft: ml, marginRight: mr, marginTop: mt, marginBottom: mb,
    style: {background: "transparent", overflow: "visible"},
    x: {domain: padded(all.map(d => d[0]))},
    y: {domain: padded(all.map(d => d[1]))},
    marks: [
      Plot.dot(blues[i], {x: d => d[0], y: d => d[1], r: 2.2, fill: "#1f77b4"}),
      Plot.dot(oranges[i], {x: d => d[0], y: d => d[1], r: 2.5, fill: "#ff7f0e"}),
      Plot.frame({stroke: "#000", strokeWidth: 1}),
      Plot.axisX({ticks: xTicks[i], tickFormat: () => "", tickSize: 4.5, label: null, stroke: "#000"}),
      Plot.axisY({ticks: yTicks[i], tickFormat: () => "", tickSize: 4.5, label: null, stroke: "#000"}),
      Plot.text([`Digit=${dg}`], {text: d => d, frameAnchor: "top", lineAnchor: "bottom", dy: -6.5,
        fontSize: 22, fontFamily: "DejaVu Sans", fill: "#000"})
    ]
  });
  svg.style.left = (colLeft[i % 5] - ml) + "px";
  svg.style.top = (rowTop[Math.floor(i / 5)] - mt) + "px";
  chart.appendChild(svg);
});
</script>
</body></html>
